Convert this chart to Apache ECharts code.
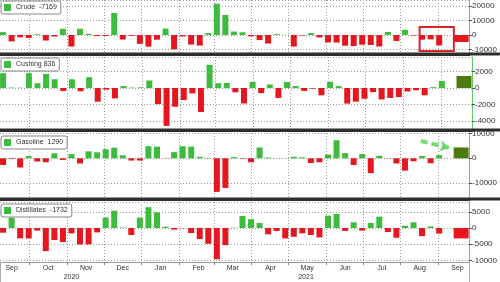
<!DOCTYPE html>
<html><head><meta charset="utf-8">
<script src="https://cdn.jsdelivr.net/npm/echarts@6/dist/echarts.min.js"></script>
<style>html,body{margin:0;padding:0;background:#fff}#c{width:500px;height:282px}</style>
</head><body><div id="c"></div>
<script>
// ---- data (weekly EIA changes, bars dated on Wednesday release) ----
const firstWeek = '2020-09-09';
const seriesNames = ['Crude', 'Cushing', 'Gasoline', 'Distillates'];
const crude = [2000, -4400, -1600, -2000, 500, -3800, -1000, 4300, -8000, 4300, 800, -750, -700, 15200, -3100, -600, -6100, -8000, -3200, 4400, -9900, -1000, -6600, -7300, 1300, 21600, 13800, 2400, 1900, -900, -3500, -5900, 600, 100, -8000, -400, 1300, -1700, -5100, -5200, -7400, -7600, -6700, -6900, -7900, 2100, -4100, 3600, -400, -3200, -3000, -7169];
const cushing = [1780, 60, 40, 1780, 570, 1700, 1050, -360, 1050, -400, 1300, -1650, -200, -1250, 240, 50, 80, 900, -1940, -4560, -2260, -1450, -650, -2900, 2790, 570, 600, -525, -1860, 730, -620, 420, -1200, 730, 230, -350, -80, -880, 730, 230, -1880, -1650, -1300, -500, -1380, -1200, -1100, -420, -270, -880, 100, 836];
const gasoline = [-2700, -300, -3700, 900, -1300, -1600, 2000, -650, 1700, -2100, 2800, 2400, 3700, 4300, 1200, -900, -900, 4900, 4700, -100, 2500, 4900, 4700, 600, -100, -13600, -12000, 500, -200, -1600, 4400, 300, 100, 50, 600, 400, -1900, -1600, 1500, 7300, 2100, -2700, 1700, -6000, 1000, -100, -2100, -5000, -1200, 900, -2000, 1290];
const distillates = [-1450, 3200, -3200, -3200, -800, -7100, -3700, -4300, -1650, -5050, -5050, -1350, 3200, 5300, 100, -2150, 3200, 6400, 4800, 400, -500, -100, -1550, -3400, -4850, -9600, -5250, 100, 3700, 2700, 1550, -1950, -900, -3200, -2700, -1650, -2150, -2900, 3800, 4300, -900, 1750, -800, 1550, 3500, -1250, -3000, 700, 1750, -2500, 500, -1732];
const latestValues = [-7169, 836, 1290, -1732];
const latestBarDay = '2021-09-19';
const latestBarValues = [-4800, 1450, 4400, -3200];
const legendSeparators = ['  ', ' ', '  ', '  '];
const tickSteps = [10000, 2000, 10000, 5000];
const monthNames = ['Jan','Feb','Mar','Apr','May','Jun','Jul','Aug','Sep','Oct','Nov','Dec'];
// annotations
const boxFrom = ['2021-08-04', 5500], boxTo = ['2021-09-25', -11000];
const arrowFrom = ['2021-08-17', 7000], arrowTo = ['2021-09-09', 4200];

// ---- axis categories: one per day ----
const axisStart = Date.UTC(2020, 8, 7), axisDays = 384;
const days = [];
for (let i = 0; i < axisDays; i++) days.push(new Date(axisStart + i * 864e5).toISOString().slice(0, 10));
const firstIdx = days.indexOf(firstWeek);
const all = [crude, cushing, gasoline, distillates];
const daily = all.map(arr => { const d = days.map(() => null); arr.forEach((v, k) => { d[firstIdx + 7 * k] = v; }); return d; });
const wide = latestBarValues.map(v => { const d = days.map(() => null); d[days.indexOf(latestBarDay)] = v; return d; });
const yearMid = new Set();
['2020', '2021'].forEach(y => { const idx = days.map((d, i) => d.startsWith(y) ? i : -1).filter(i => i >= 0); yearMid.add(days[idx[Math.floor(idx.length / 2)]]); });

const GREEN = '#3dbb3d', RED = '#e5161d', OLIVE = '#4d7a0c';
const grids = [{ top: 0, height: 54 }, { top: 57, height: 73 }, { top: 133, height: 66 }, { top: 202, height: 60 }];
const yRanges = [[-13100, 24140], [-5060, 3730], [-16480, 10240], [-10460, 8000]];
const legendTops = [1, 58, 136, 204];

const xAxes = [], yAxes = [], series = [], legends = [], graphics = [];
grids.forEach((g, i) => {
  xAxes.push({
    type: 'category', gridIndex: i, data: days, position: 'bottom',
    axisLine: { show: true, onZero: false, lineStyle: { color: i < 3 ? '#2e2e2e' : '#999', width: i < 3 ? 3 : 1 } },
    axisTick: { show: i === 3, interval: (k, v) => v.endsWith('-01'), length: 3, lineStyle: { color: '#888' } },
    axisLabel: { show: i === 3, interval: (k, v) => v.endsWith('-16'), formatter: v => monthNames[+v.slice(5, 7) - 1], fontSize: 7, color: '#333', margin: 3 },
    splitLine: { show: true, interval: (k, v) => v.endsWith('-01'), lineStyle: { type: [1, 2], color: '#999' } }
  });
  if (i < 3) graphics.push({ type: 'line', shape: { x1: 0, y1: g.top + g.height, x2: 500, y2: g.top + g.height }, style: { stroke: '#2e2e2e', lineWidth: 3 }, z: 10 });
});
grids.forEach((g, i) => {
  xAxes.push({ type: 'category', gridIndex: i, data: days, show: false, axisLine: { onZero: false } });
});
xAxes.push({
  type: 'category', gridIndex: 3, data: days, position: 'bottom',
  axisLine: { show: false, onZero: false },
  axisTick: { show: true, interval: (k, v) => v.endsWith('-01-01'), length: 20, lineStyle: { color: '#aaa' } },
  axisLabel: { interval: (k, v) => yearMid.has(v), formatter: v => v.slice(0, 4), fontSize: 7, color: '#333', margin: 12 },
  splitLine: { show: false }
});
grids.forEach((g, i) => {
  const st = tickSteps[i];
  yAxes.push({
    type: 'value', gridIndex: i, position: 'right', min: yRanges[i][0], max: yRanges[i][1],
    minInterval: st, maxInterval: st,
    axisLine: { show: true, onZero: false, lineStyle: { color: '#62c862' } },
    axisTick: { show: true, length: 3, lineStyle: { color: '#555' } },
    axisLabel: { fontSize: 8, color: '#333', margin: 3, showMinLabel: false, showMaxLabel: false, formatter: v => (v % st === 0 ? String(v) : '') },
    splitLine: { show: true, lineStyle: { type: [1, 2], color: '#999' } }
  });
  const ml = [{ yAxis: latestValues[i], lineStyle: { opacity: 0 }, label: { show: true, position: 'end', formatter: String(latestValues[i]), backgroundColor: '#47c447', color: '#111', fontSize: 8, padding: [1, 6, 1, 3], distance: 1 } }];
  if (i === 2) ml.push([{ coord: arrowFrom, symbol: 'none', lineStyle: { type: [7, 4], width: 4, color: '#5fd75f', opacity: 0.85 }, label: { show: false } }, { coord: arrowTo, symbol: 'arrow', symbolSize: 9 }]);
  const s = {
    type: 'bar', name: seriesNames[i], xAxisIndex: i, yAxisIndex: i, data: daily[i], barWidth: 6,
    itemStyle: { color: p => (p.value >= 0 ? GREEN : RED) },
    markLine: { silent: true, symbol: 'none', animation: false, data: ml }
  };
  if (i === 0) s.markArea = { silent: true, itemStyle: { color: 'rgba(0,0,0,0)', borderColor: '#d8262b', borderWidth: 2 }, data: [[{ coord: boxFrom }, { coord: boxTo }]] };
  series.push(s);
  series.push({
    type: 'bar', name: seriesNames[i] + ' last', xAxisIndex: 4 + i, yAxisIndex: i, data: wide[i], barWidth: 15,
    itemStyle: { color: p => (p.value >= 0 ? OLIVE : RED) }
  });
  legends.push({
    data: [seriesNames[i]], left: 1, top: legendTops[i], selectedMode: false,
    formatter: n => n + legendSeparators[i] + latestValues[i],
    icon: 'rect', itemWidth: 7, itemHeight: 7, itemGap: 3, padding: [3, 4, 3, 3],
    backgroundColor: '#fff', borderColor: '#888', borderWidth: 1, borderRadius: 2,
    itemStyle: { color: GREEN }, textStyle: { fontSize: 7, color: '#333' }
  });
});

const chart = echarts.init(document.getElementById('c'), null, { renderer: 'canvas' });
chart.setOption({
  animation: false,
  textStyle: { fontFamily: 'Liberation Sans, Arial, sans-serif' },
  grid: grids.map(g => ({ left: 0, right: 28, top: g.top, height: g.height })),
  legend: legends, xAxis: xAxes, yAxis: yAxes, series: series, graphic: graphics
});
</script></body></html>
